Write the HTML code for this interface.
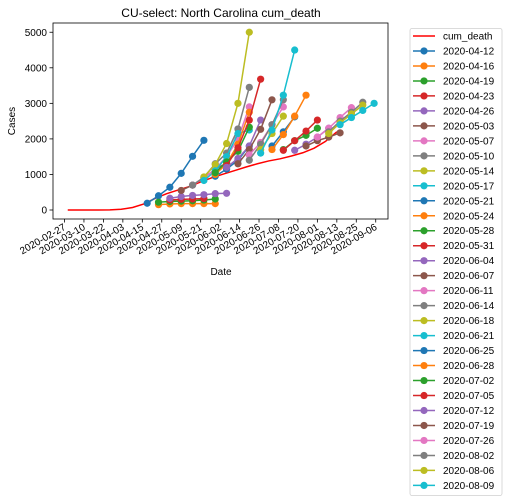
<!DOCTYPE html>
<html><head><meta charset="utf-8"><style>
body{margin:0;background:#fff;}
svg{display:block;font-family:"Liberation Sans","DejaVu Sans",sans-serif;}
</style></head><body>
<svg id="chart" width="510" height="504" viewBox="0 0 510 504" xmlns="http://www.w3.org/2000/svg"></svg>
<script>
// ---- data ----
const xTickLabels = ["2020-02-27","2020-03-10","2020-03-22","2020-04-03","2020-04-15","2020-04-27","2020-05-09","2020-05-21","2020-06-02","2020-06-14","2020-06-26","2020-07-08","2020-07-20","2020-08-01","2020-08-13","2020-08-25","2020-09-06"];
const yTicks = [0,1000,2000,3000,4000,5000];
// actual cumulative deaths: day offset from 2020-02-27, value
const actualDays = [2,21,28,35,42,49,56,63,70,77,84,91,98,105,112,119,126,133,140,147,154,161,168];
const actualVals = [0,0,5,20,70,170,330,460,560,660,790,910,1010,1110,1210,1300,1380,1440,1520,1610,1740,1930,2200];
// forecasts: label, first week index (week 0 = 2020-04-18), weekly values
const seriesNames = ["2020-04-12","2020-04-16","2020-04-19","2020-04-23","2020-04-26","2020-05-03","2020-05-07","2020-05-10","2020-05-14","2020-05-17","2020-05-21","2020-05-24","2020-05-28","2020-05-31","2020-06-04","2020-06-07","2020-06-11","2020-06-14","2020-06-18","2020-06-21","2020-06-25","2020-06-28","2020-07-02","2020-07-05","2020-07-12","2020-07-19","2020-07-26","2020-08-02","2020-08-06","2020-08-09"];
const seriesStart = [0,1,1,2,2,3,4,4,5,5,6,6,6,7,7,8,9,9,10,10,11,11,12,12,13,14,15,16,16,17];
const seriesVals = [
 [190,400,640,1030,1510,1960],
 [150,170,180,180,180,180],
 [220,240,250,260,280,310],
 [280,300,310,320],
 [330,380,410,430,460,470],
 [550,700,900,1150,1320,1700],
 [700,900,1150,1500,2000,2900],
 [700,920,1300,1600,2280,3450],
 [930,1280,1870,3000,5000],
 [830,1100,1500,2150,2250],
 [950,1150,1400,1800],
 [1000,1300,1850,2750],
 [1050,1350,1650,2330],
 [1250,1750,2530,3680],
 [1200,1450,1800,2530],
 [1300,1700,2270,3100],
 [1550,1900,2400,2900],
 [1400,1850,2400,3100],
 [1700,2150,2640],
 [1600,2250,3230,4500],
 [1800,2200,2620],
 [1700,2120,2640,3230],
 [1700,1950,2100,2300],
 [1680,1950,2220,2530],
 [1680,1850,2050,2300],
 [1800,1950,2050,2170],
 [2050,2300,2600,2880],
 [2200,2500,2750,3030],
 [2150,2450,2700,2950],
 [2400,2600,2800,3000]
];
const palette = ["#1f77b4","#ff7f0e","#2ca02c","#d62728","#9467bd","#8c564b","#e377c2","#7f7f7f","#bcbd22","#17becf"];
// ---- layout ----
const L=53,R=388,T=23,B=219;
const xOf = d => 64.5 + d*1.621;
const yOf = v => 210 - v*0.03555;
const weekDay = k => 51 + 7*k;
const NS="http://www.w3.org/2000/svg";
const svg=document.getElementById('chart');
function mk(tag,attrs,parent){const e=document.createElementNS(NS,tag);for(const k in attrs)e.setAttribute(k,attrs[k]);(parent||svg).appendChild(e);return e;}

let t=mk('text',{x:221,y:17,'font-size':12,'text-anchor':'middle',fill:'#000'});t.textContent="CU-select: North Carolina cum_death";



yTicks.forEach(v=>{
  const y=yOf(v);
  const l=mk('line',{x1:L-3.5,x2:L,y1:y,y2:y,stroke:'#000','stroke-width':0.8});
  
  
  const tx=mk('text',{x:L-6,y:y+3.5,'font-size':10,'text-anchor':'end'});tx.textContent=v;
  
  
});
xTickLabels.forEach((s,i)=>{
  const x=xOf(i*12);
  const l=mk('line',{x1:x,x2:x,y1:B,y2:B+3.5,stroke:'#000','stroke-width':0.8});
  
  
  const tx=mk('text',{x:x+2,y:B+10,'font-size':10,'text-anchor':'end',transform:`rotate(-30 ${x+2} ${B+10})`});tx.textContent=s;
  
  
});
t=mk('text',{x:221,y:275,'font-size':10,'text-anchor':'middle'});t.textContent="Date";


t=mk('text',{x:15,y:121,'font-size':10,'text-anchor':'middle',transform:'rotate(-90 15 121)'});t.textContent="Cases";



let pts=actualDays.map((d,i)=>xOf(d)+','+yOf(actualVals[i])).join(' ');
let pl=mk('polyline',{points:pts,fill:'none',stroke:'#ff0000','stroke-width':1.5});



seriesVals.forEach((vals,si)=>{
  const c=palette[si%10];
  const g=mk('g',{});
  
  
  const p=vals.map((v,j)=>xOf(weekDay(seriesStart[si]+j))+','+yOf(v)).join(' ');
  mk('polyline',{points:p,fill:'none',stroke:c,'stroke-width':1.5},g);
  vals.forEach((v,j)=>{
    const ci=mk('circle',{cx:xOf(weekDay(seriesStart[si]+j)),cy:yOf(v),r:3.6,fill:c},g);
    
    
  });
});

let fr=mk('rect',{x:L,y:T,width:R-L,height:B-T,fill:'none',stroke:'#000','stroke-width':0.8});



const lg=mk('g',{});


mk('rect',{x:410,y:28.5,width:92,height:467,rx:2,fill:'#fff',stroke:'#d0d0d0','stroke-width':0.8},lg);
const labels=["cum_death"].concat(seriesNames);
labels.forEach((s,i)=>{
  const y=37+i*14.98;
  const c=i===0?'#ff0000':palette[(i-1)%10];
  const e=mk('g',{},lg);
  
  
  mk('line',{x1:413,x2:435,y1:y-1,y2:y-1,stroke:c,'stroke-width':1.5},e);
  if(i>0) mk('circle',{cx:424,cy:y-1,r:3.6,fill:c},e);
  const tx=mk('text',{x:443,y:y+2.5,'font-size':10},e);tx.textContent=s;
});
</script>
</body></html>
